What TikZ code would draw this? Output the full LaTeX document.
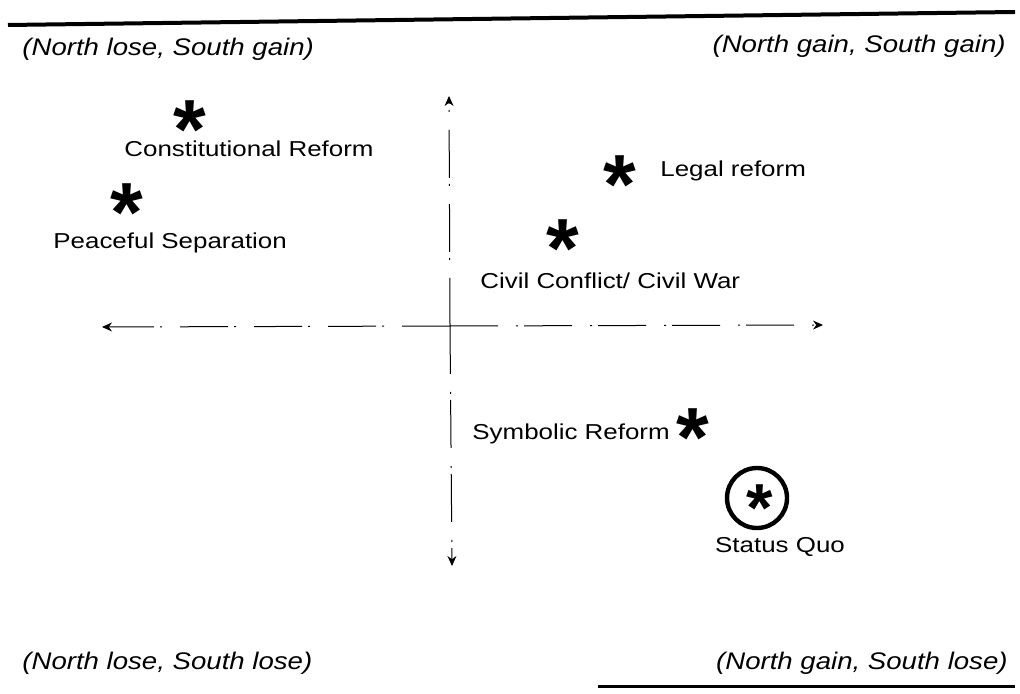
\documentclass[tikz,border=0pt]{standalone}
\usepackage{fontspec}
\usepackage{tikz}
\usetikzlibrary{positioning, arrows.meta}
\setmainfont{Liberation Sans}
\newfontfamily\lblfont[FakeStretch=1.2]{Liberation Sans}
\newfontfamily\quadfont[FakeStretch=1.15]{Liberation Sans}
\newfontfamily\starfont{Liberation Sans}

\begin{document}
\begin{tikzpicture}[x=0.5pt, y=-0.5pt,
    lbl/.style={font=\lblfont\fontsize{10.8}{13}\selectfont, inner sep=0pt},
    quad/.style={font=\quadfont\itshape\fontsize{12}{14}\selectfont, inner sep=0pt},
    starmark/.style={font=\starfont\bfseries\fontsize{42}{42}\selectfont, inner sep=0pt, anchor=center},
    axis/.style={line width=0.5pt, dash pattern=on 24pt off 9pt on 1pt off 3pt, -{Stealth[length=5pt, width=4.5pt]}}]
    \useasboundingbox (0,0) rectangle (1020,694);
    % top and bottom rules
    \draw[line width=2pt] (8,25) -- (1015,12);
    \draw[line width=1.5pt] (598,686) -- (1015,686);
    % quadrant captions
    \node[quad, anchor=base west] (nlsg) at (22,56) {(North lose, South gain)};
    \node[quad, anchor=base east] (ngsg) at (1006,53) {(North gain, South gain)};
    \node[quad, anchor=base west] (nlsl) at (22,669) {(North lose, South lose)};
    \node[quad, anchor=base east] (ngsl) at (1008,669) {(North gain, South lose)};
    % axes
    \coordinate (org) at (450,326);
    \coordinate (ytop) at (449,96);
    \coordinate (ybot) at (452,566);
    \coordinate (xleft) at (102,327);
    \coordinate (xright) at (823,325);
    \draw[axis] (org) -- (ytop);
    \draw[axis] (org) -- (ybot);
    \draw[axis] (org) -- (xleft);
    \draw[axis] (org) -- (xright);
    % outcomes
    \node[starmark] (crstar) at (190,122) {\raisebox{-0.44em}[0.15em][0.15em]{*}};
    \node[lbl, anchor=base west] (crtext) at (124,157) {Constitutional Reform};
    \node[starmark] (psstar) at (127,205) {\raisebox{-0.44em}[0.15em][0.15em]{*}};
    \node[lbl, anchor=base west] (pstext) at (53,249) {Peaceful Separation};
    \node[starmark] (lrstar) at (620,177) {\raisebox{-0.44em}[0.15em][0.15em]{*}};
    \node[lbl, anchor=base west] (lrtext) at (660,177) {Legal reform};
    \node[starmark] (ccstar) at (563,241) {\raisebox{-0.44em}[0.15em][0.15em]{*}};
    \node[lbl, anchor=base west] (cctext) at (480,289) {Civil Conflict/ Civil War};
    \node[lbl, anchor=base west] (srtext) at (472,439) {Symbolic Reform};
    \node[starmark] (srstar) at (693,430) {\raisebox{-0.44em}[0.15em][0.15em]{*}};
    \node[starmark, font=\starfont\bfseries\fontsize{34}{34}\selectfont] (sqstar) at (760,502) {\raisebox{-0.44em}[0.15em][0.15em]{*}};
    \node[circle, draw, line width=2.2pt, minimum size=30pt, inner sep=0pt] (sqring) at (757,498) {};
    \node[lbl, anchor=base] (sqtext) at (780,552) {Status Quo};
\end{tikzpicture}
\end{document}
